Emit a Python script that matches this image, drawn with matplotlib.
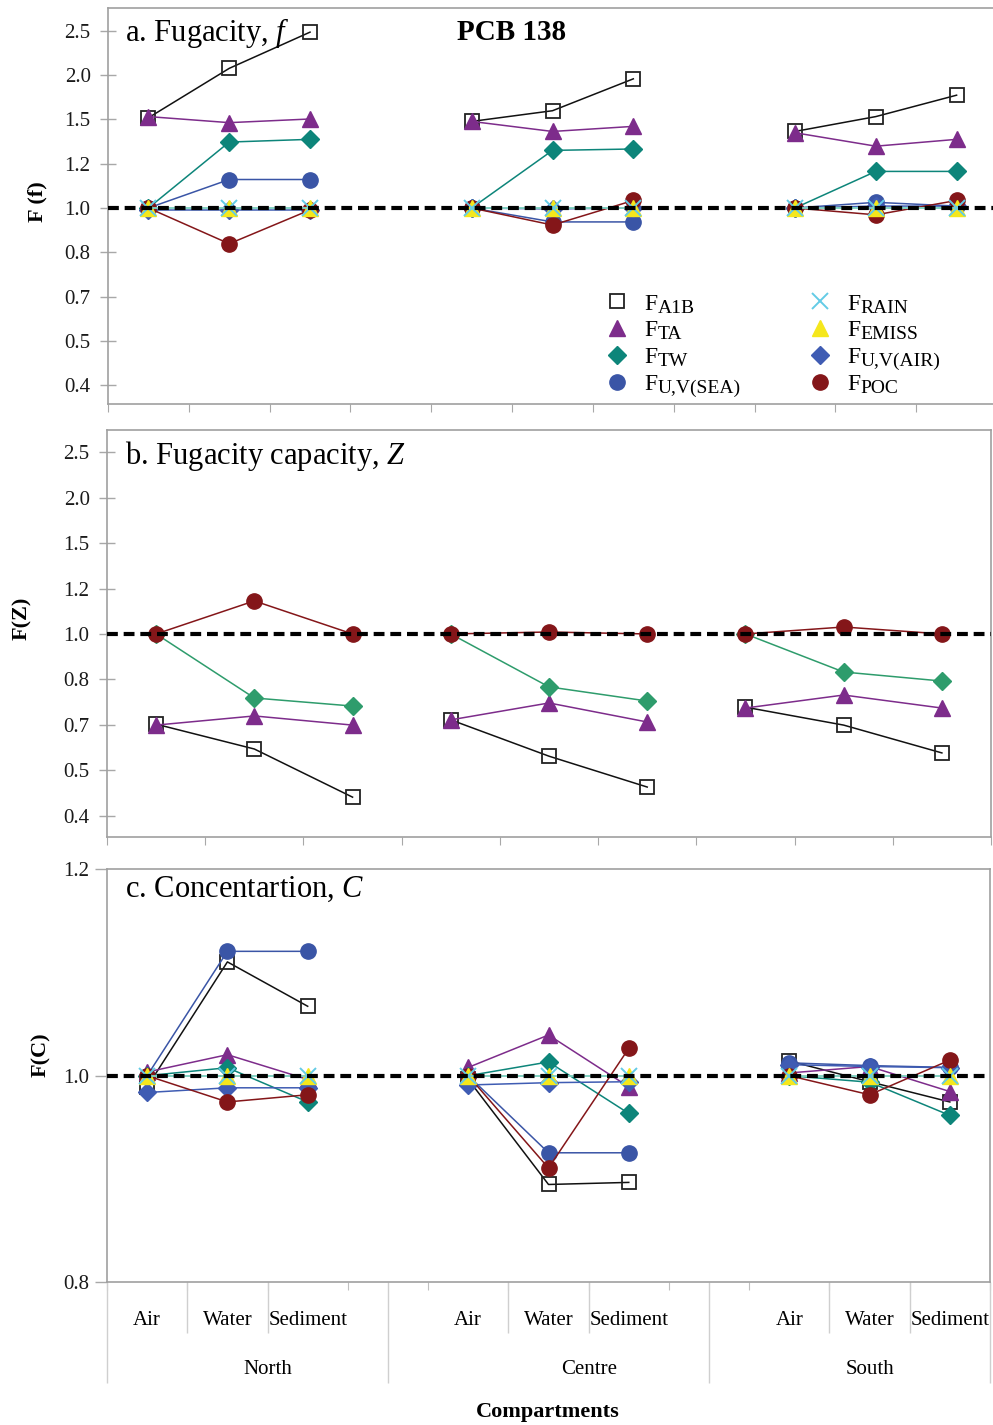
import numpy as np
import matplotlib
matplotlib.use('Agg')
import matplotlib.pyplot as plt
from matplotlib.lines import Line2D
from matplotlib.ticker import FixedLocator, FixedFormatter, NullLocator

plt.rcParams['font.family'] = ['Liberation Serif', 'DejaVu Serif']
plt.rcParams['mathtext.fontset'] = 'custom'
plt.rcParams['mathtext.rm'] = 'Liberation Serif'
plt.rcParams['mathtext.it'] = 'Liberation Serif:italic'
plt.rcParams['mathtext.bf'] = 'Liberation Serif:bold'

# categories
regions = ['North', 'Centre', 'South']
compartments = ['Air', 'Water', 'Sediment']

# values in order: N air, N water, N sed, C air, C water, C sed, S air, S water, S sed
# a. fugacity factors
fug_a1b = [1.60, 2.07, 2.50, 1.57, 1.66, 1.96, 1.49, 1.61, 1.80]
fug_ta = [1.61, 1.56, 1.59, 1.57, 1.49, 1.53, 1.48, 1.38, 1.43]
fug_tw = [1.00, 1.41, 1.43, 1.00, 1.35, 1.36, 1.00, 1.21, 1.21]
fug_uvsea = [1.00, 1.16, 1.16, 1.00, 0.93, 0.93, 1.00, 1.03, 1.01]
fug_rain = [1.00, 1.00, 1.00, 1.00, 1.00, 1.00, 1.00, 1.00, 1.00]
fug_emiss = [1.00, 1.00, 1.00, 1.00, 1.00, 1.00, 1.00, 1.00, 1.00]
fug_uvair = [0.99, 0.99, 0.99, 1.00, 0.995, 1.00, 1.00, 1.01, 1.01]
fug_poc = [1.00, 0.83, 0.99, 1.00, 0.915, 1.04, 1.00, 0.965, 1.04]

# b. fugacity capacity factors
cap_a1b = [0.632, 0.557, 0.436, 0.646, 0.537, 0.459, 0.689, 0.629, 0.546]
cap_ta = [0.629, 0.659, 0.629, 0.646, 0.704, 0.639, 0.686, 0.733, 0.686]
cap_tw = [1.00, 0.722, 0.693, 1.00, 0.764, 0.711, 1.00, 0.824, 0.787]
cap_poc = [1.00, 1.183, 1.00, 1.00, 1.01, 1.00, 1.00, 1.036, 1.00]

# c. concentration factors
conc_a1b = [0.988, 1.131, 1.078, 0.996, 0.889, 0.891, 1.016, 0.9935, 0.972]
conc_ta = [1.004, 1.023, 0.996, 1.009, 1.045, 0.988, 1.003, 1.010, 0.983]
conc_tw = [1.000, 1.0087, 0.972, 1.000, 1.015, 0.960, 1.000, 0.993, 0.958]
conc_uvsea = [1.000, 1.144, 1.144, 1.000, 0.920, 0.920, 1.014, 1.011, 1.009]
conc_rain = [1.00, 1.00, 1.00, 1.00, 1.00, 1.00, 1.00, 1.00, 1.00]
conc_emiss = [1.00, 1.00, 1.00, 1.00, 1.00, 1.00, 1.00, 1.00, 1.00]
conc_uvair = [0.982, 0.987, 0.987, 0.990, 0.9925, 0.9935, 1.012, 1.010, 1.0087]
conc_poc = [1.000, 0.972, 0.9796, 1.000, 0.905, 1.030, 1.000, 0.9796, 1.017]

fug_labels = ['0.4', '0.5', '0.7', '0.8', '1.0', '1.2', '1.5', '2.0', '2.5']
conc_labels = ['0.8', '1.0', '1.2']

legend_subs = ['A1B', 'TA', 'TW', 'U,V(SEA)', 'RAIN', 'EMISS', 'U,V(AIR)', 'POC']

# series styles
sty = {
    'a1b': dict(color='#111111', marker='s', mfc='none', mec='#222222', ms=10.5, mew=1.3),
    'ta': dict(color='#7D2C8B', marker='^', ms=12),
    'tw': dict(color='#0D857A', marker='D', ms=9),
    'uvsea': dict(color='#3A55A6', marker='o', ms=11),
    'rain': dict(color='#63CBE6', marker='x', ms=11, mew=1.4),
    'emiss': dict(color='#F5E71C', marker='^', ms=12),
    'uvair': dict(color='#3F5CB3', marker='D', ms=9),
    'poc': dict(color='#841619', marker='o', ms=11),
}
legend_keys = ['a1b', 'ta', 'tw', 'uvsea', 'rain', 'emiss', 'uvair', 'poc']

W, H = 993, 1425
fig = plt.figure(figsize=(W / 100, H / 100), dpi=100)


def px_rect(left, top, right, bottom):
    return [left / W, 1 - bottom / H, (right - left) / W, (bottom - top) / H]


def fx(x):
    return x / W


def fy(y):
    return 1 - y / H


ax_a = fig.add_axes(px_rect(108, 8, 997, 404))
ax_b = fig.add_axes(px_rect(107, 430, 991, 837))
ax_c = fig.add_axes(px_rect(107, 869, 990, 1282))

# slots: blank slot between regions in panels a and c
slots_gap = []
for i, r in enumerate(regions):
    slots_gap += compartments
    if i < len(regions) - 1:
        slots_gap.append('')
x_gap = [i for i, s in enumerate(slots_gap) if s]
x_nogap = list(range(len(regions) * len(compartments)))


def draw_series(ax, xs, vals, st):
    n = len(compartments)
    for k in range(len(regions)):
        ax.plot(xs[k * n:(k + 1) * n], vals[k * n:(k + 1) * n], lw=1.1, **st)


def style_axes(ax, nslots, base, kmin, kmax, labels, lo, hi, ydir, ylen, ypad):
    ax.set_yscale('log')
    ax.yaxis.set_major_locator(FixedLocator(base ** np.arange(kmin, kmax + 1)))
    ax.yaxis.set_major_formatter(FixedFormatter(labels))
    ax.yaxis.set_minor_locator(NullLocator())
    ax.set_ylim(base ** lo, base ** hi)
    ax.set_xlim(-0.5, nslots - 0.5)
    ax.axhline(1.0, color='black', lw=3, dashes=(2.6, 1.4), zorder=6)
    for s in ax.spines.values():
        s.set_color('#a0a0a0')
        s.set_linewidth(1.2)
    ax.tick_params(axis='y', direction=ydir, length=ylen, width=1, color='#a8a8a8',
                   labelsize=15, pad=ypad, labelcolor='#1a1a1a')


r3 = 2 ** (1 / 3)

# panel a
for key, vals in zip(['a1b', 'ta', 'tw', 'uvsea', 'uvair', 'poc', 'emiss', 'rain'],
                     [fug_a1b, fug_ta, fug_tw, fug_uvsea, fug_uvair, fug_poc, fug_emiss, fug_rain]):
    draw_series(ax_a, x_gap, vals, sty[key])
style_axes(ax_a, len(slots_gap), r3, -4, 4, fug_labels, -4.42, 4.51, 'inout', 11, 7)
ax_a.set_xticks(np.arange(len(slots_gap) + 1) - 0.5)
ax_a.tick_params(axis='x', direction='out', length=6, color='#a8a8a8', labelbottom=False)

handles = [Line2D([], [], ls='none', **sty[k]) for k in legend_keys]
leg = ax_a.legend(handles, ['F'] * len(handles), ncol=2, loc='upper left',
                  bbox_to_anchor=(0.559, 0.280), frameon=False, fontsize=17,
                  handlelength=1.0, handletextpad=0.65, columnspacing=6.4,
                  labelspacing=0.22, borderpad=0, borderaxespad=0)
# small-caps style suffixes next to each "F"
for t, sub in zip(leg.get_texts(), legend_subs):
    ax_a.annotate(sub, xy=(1, 0), xycoords=t, xytext=(0.3, -1.5),
                  textcoords='offset points', fontsize=14, ha='left', va='bottom',
                  zorder=7)

# panel b
for key, vals in zip(['a1b', 'ta', 'tw', 'poc'], [cap_a1b, cap_ta, cap_tw, cap_poc]):
    st = dict(sty[key])
    if key == 'tw':
        st['color'] = '#2E9C6C'
    draw_series(ax_b, x_nogap, vals, st)
style_axes(ax_b, len(x_nogap), r3, -4, 4, fug_labels, -4.47, 4.49, 'inout', 11, 7)
ax_b.set_xticks(np.arange(len(x_nogap) + 1) - 0.5)
ax_b.tick_params(axis='x', direction='out', length=6, color='#a8a8a8', labelbottom=False)

# panel c
for key, vals in zip(['a1b', 'ta', 'tw', 'uvsea', 'uvair', 'poc', 'emiss', 'rain'],
                     [conc_a1b, conc_ta, conc_tw, conc_uvsea, conc_uvair, conc_poc, conc_emiss, conc_rain]):
    draw_series(ax_c, x_gap, vals, sty[key])
style_axes(ax_c, len(slots_gap), 1.25, -1, 1, conc_labels, -1.0, 1.002, 'out', 9, 4)
bounds = np.arange(len(slots_gap) + 1) - 0.5
ax_c.set_xticks(bounds)
ax_c.tick_params(axis='x', direction='out', length=6, color='#c0c0c0', labelbottom=False)

trans = ax_c.get_xaxis_transform()
for i in range(len(slots_gap) - 1):
    if slots_gap[i] and slots_gap[i + 1]:
        ax_c.vlines(i + 0.5, -0.1235, 0, transform=trans, colors='#cfcfcf', lw=1, clip_on=False)
for i, s in enumerate(slots_gap):
    if s:
        ax_c.text(i, -0.094, s, transform=trans, ha='center', va='center', fontsize=15)

# region groups: each region takes its compartments plus the blank slot after it
n = len(compartments)
group_lines = [-0.5]
for k, r in enumerate(regions):
    start = k * (n + 1)
    stop = min(start + n + 1, len(slots_gap))
    ax_c.text((start + stop - 1) / 2, -0.213, r, transform=trans, ha='center', va='center',
              fontsize=15)
    group_lines.append(start + n if k < len(regions) - 1 else len(slots_gap) - 0.5)
for g in group_lines:
    ax_c.vlines(g, -0.2446, 0, transform=trans, colors='#cfcfcf', lw=1, clip_on=False)

# texts
fig.text(fx(125), fy(33), r'a. Fugacity, $f$', fontsize=22, va='center')
fig.text(fx(512), fy(33), 'PCB 138', fontsize=21, fontweight='bold', ha='center', va='center')
fig.text(fx(125), fy(456), r'b. Fugacity capacity, $Z$', fontsize=22, va='center')
fig.text(fx(125), fy(889), r'c. Concentartion, $C$', fontsize=22, va='center')

fig.text(fx(37), fy(202), 'F (f)', fontsize=16, fontweight='bold', rotation=90,
         ha='center', va='center')
fig.text(fx(22), fy(618), 'F(Z)', fontsize=16, fontweight='bold', rotation=90,
         ha='center', va='center')
fig.text(fx(41), fy(1055), 'F(C)', fontsize=16, fontweight='bold', rotation=90,
         ha='center', va='center')
fig.text(fx(548), fy(1412), 'Compartments', fontsize=16, fontweight='bold',
         ha='center', va='center')

fig.savefig('out.png', dpi=100)
